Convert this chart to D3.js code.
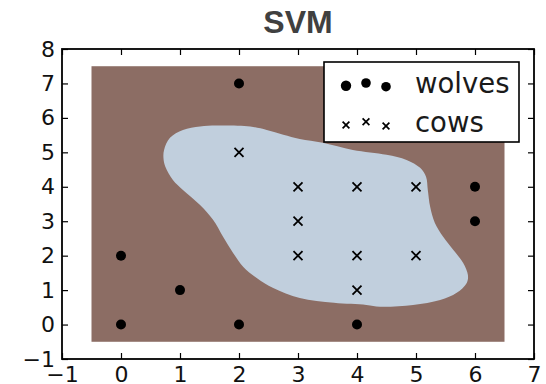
<!DOCTYPE html>
<html>
<head>
<meta charset="utf-8">
<script src="https://cdn.jsdelivr.net/npm/d3@7"></script>
<style>
  html, body { margin: 0; padding: 0; background: #fff; }
  svg { display: block; }
</style>
</head>
<body>
<svg id="chart" width="546" height="384"></svg>
<script>
// Training points for the two classes
const wolvesX = [0, 0, 1, 2, 2, 4, 6, 6];
const wolvesY = [0, 2, 1, 0, 7, 0, 3, 4];
const cowsX = [2, 3, 3, 3, 4, 4, 4, 5, 5];
const cowsY = [5, 4, 3, 2, 4, 2, 1, 4, 2];

// Decision surface: grid extent and the cow-class boundary (data units)
const gridX = [-0.5, 6.5];
const gridY = [-0.5, 7.5];
const boundaryX = [0.72, 0.73, 0.83, 1.05, 1.34, 1.62, 2.19, 2.47, 2.75, 3.03, 3.42, 3.93, 4.50, 4.84, 5.07, 5.17, 5.20, 5.24, 5.32, 5.46, 5.63, 5.80, 5.88, 5.86, 5.69, 5.41, 4.95, 4.39, 4.16, 3.61, 3.03, 2.58, 2.30, 2.07, 1.90, 1.73, 1.56, 1.34, 1.05, 0.88, 0.75];
const boundaryY = [4.83, 5.07, 5.42, 5.65, 5.75, 5.78, 5.75, 5.65, 5.51, 5.39, 5.28, 5.07, 4.93, 4.78, 4.55, 4.29, 3.91, 3.42, 2.95, 2.55, 2.17, 1.79, 1.44, 1.21, 0.92, 0.71, 0.57, 0.52, 0.57, 0.63, 0.77, 1.06, 1.35, 1.68, 2.08, 2.55, 3.04, 3.47, 3.91, 4.20, 4.59];

// Axis ticks
const xTicks = [-1, 0, 1, 2, 3, 4, 5, 6, 7];
const yTicks = [-1, 0, 1, 2, 3, 4, 5, 6, 7, 8];

const legendLabels = ["wolves", "cows"];
const title = "SVM";

const svg = d3.select("#chart");
const plotL = 62, plotR = 534, plotT = 49, plotB = 359;

const x = d3.scaleLinear().domain([-1, 7]).range([plotL, plotR]);
const y = d3.scaleLinear().domain([-1, 8]).range([plotB, plotT]);

const brown = "#8c6d64";
const pale = "#c1cfdd";

// background class region
svg.append("rect")
  .attr("x", x(gridX[0])).attr("y", y(gridY[1]))
  .attr("width", x(gridX[1]) - x(gridX[0]))
  .attr("height", y(gridY[0]) - y(gridY[1]))
  .attr("fill", brown);

// cow class region
const boundary = boundaryX.map((v, i) => [v, boundaryY[i]]);
svg.append("path")
  .datum(boundary)
  .attr("d", d3.line().x(d => x(d[0])).y(d => y(d[1])).curve(d3.curveCatmullRomClosed.alpha(0.5)))
  .attr("fill", pale);

// wolves
svg.append("g").selectAll("circle")
  .data(wolvesX.map((v, i) => [v, wolvesY[i]]))
  .join("circle")
  .attr("cx", d => x(d[0])).attr("cy", d => y(d[1]))
  .attr("r", 5).attr("fill", "#000");

// cows
function cross(g, cx, cy, h, w) {
  g.append("path")
    .attr("d", `M${cx - h},${cy - h}L${cx + h},${cy + h}M${cx - h},${cy + h}L${cx + h},${cy - h}`)
    .attr("stroke", "#000").attr("stroke-width", w).attr("fill", "none");
}
const cowG = svg.append("g");
cowsX.forEach((v, i) => cross(cowG, x(v), y(cowsY[i]), 4.5, 1.8));

// axes with inward ticks on all sides
const tickFont = "'DejaVu Sans', sans-serif";
const fmt = d3.format("d");
const axB = svg.append("g").attr("transform", `translate(0,${plotB})`)
  .call(d3.axisBottom(x).tickValues(xTicks).tickFormat(fmt).tickSize(-6).tickPadding(7));
const axL = svg.append("g").attr("transform", `translate(${plotL},0)`)
  .call(d3.axisLeft(y).tickValues(yTicks).tickFormat(fmt).tickSize(-6).tickPadding(7));
const axT = svg.append("g").attr("transform", `translate(0,${plotT})`)
  .call(d3.axisTop(x).tickValues(xTicks).tickFormat("").tickSize(-6));
const axR = svg.append("g").attr("transform", `translate(${plotR},0)`)
  .call(d3.axisRight(y).tickValues(yTicks).tickFormat("").tickSize(-6));
[axB, axL, axT, axR].forEach(a => {
  a.select(".domain").remove();
  a.selectAll(".tick line").attr("stroke", "#000").attr("stroke-width", 1.2);
  a.selectAll("text").attr("font-family", tickFont).attr("font-size", 22).attr("fill", "#111");
});

// frame
svg.append("rect")
  .attr("x", plotL).attr("y", plotT)
  .attr("width", plotR - plotL).attr("height", plotB - plotT)
  .attr("fill", "none").attr("stroke", "#000").attr("stroke-width", 1.8);

// legend
const lg = svg.append("g");
lg.append("rect").attr("x", 324).attr("y", 62).attr("width", 195).attr("height", 80)
  .attr("fill", "#fff").attr("stroke", "#000").attr("stroke-width", 1.6);
const mx = [346, 366, 386];
const wolfDy = [0, -2.7, 1];
const cowDy = [0, -3.3, 1];
mx.forEach((px, i) => {
  lg.append("circle").attr("cx", px).attr("cy", 85.7 + wolfDy[i]).attr("r", i === 0 ? 5.2 : 4.8).attr("fill", "#000");
  cross(lg, px, 125 + cowDy[i], 3.4, 1.7);
});
lg.selectAll("text.lab").data(legendLabels).join("text")
  .attr("class", "lab")
  .attr("x", 415).attr("y", (d, i) => i === 0 ? 93 : 132)
  .attr("font-family", tickFont).attr("font-size", 27.5).attr("fill", "#1a1a1a")
  .text(d => d);

// title
svg.append("text")
  .attr("x", (plotL + plotR) / 2).attr("y", 33)
  .attr("text-anchor", "middle")
  .attr("font-family", "'Liberation Sans', Arial, sans-serif")
  .attr("font-weight", "bold").attr("font-size", 32).attr("fill", "#404040")
  .text(title);
</script>
</body>
</html>
